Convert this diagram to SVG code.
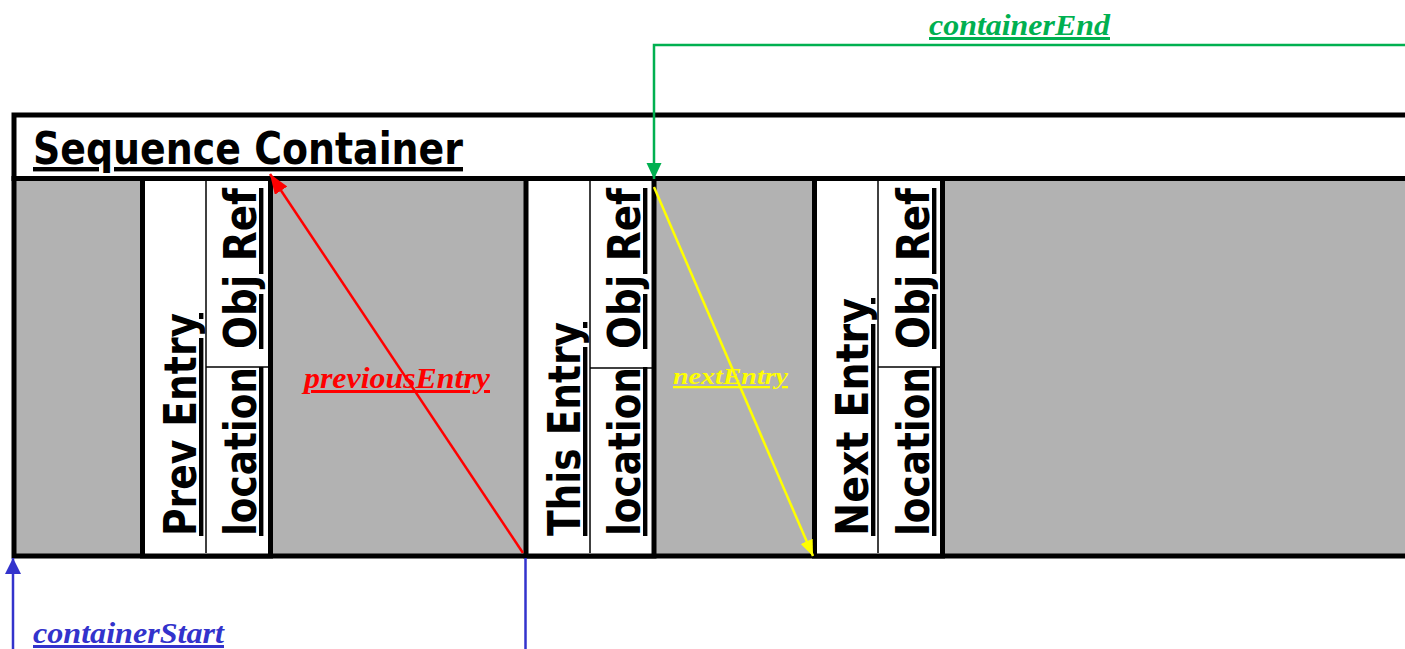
<svg xmlns="http://www.w3.org/2000/svg" width="1405" height="649" viewBox="0 0 1405 649">
<style>
.bd{stroke:#000;stroke-width:5;}
.thin{stroke:#000;stroke-width:1.5;}
.big{font-family:"DejaVu Sans Condensed","Liberation Sans",Arial,sans-serif;font-weight:bold;font-size:44px;fill:#000;text-decoration:underline;text-decoration-thickness:4px;text-underline-offset:3px;}
.lbl{font-family:"Liberation Serif","Times New Roman",serif;font-weight:bold;font-style:italic;text-decoration:underline;text-decoration-thickness:3px;}
.conn{fill:none;stroke-width:2.5;}
</style>
<defs>
<marker id="ar" markerUnits="userSpaceOnUse" markerWidth="22" markerHeight="16" refX="20" refY="7.5" orient="auto"><path d="M0,0 L20,7.5 L0,15 z" fill="#ff0000"/></marker>
<marker id="ay" markerUnits="userSpaceOnUse" markerWidth="18" markerHeight="14" refX="16" refY="6.5" orient="auto"><path d="M0,0 L16,6.5 L0,13 z" fill="#ffff00"/></marker>
<marker id="ag" markerUnits="userSpaceOnUse" markerWidth="18" markerHeight="16" refX="16" refY="7.5" orient="auto"><path d="M0,0 L16,7.5 L0,15 z" fill="#00b050"/></marker>
<marker id="ab" markerUnits="userSpaceOnUse" markerWidth="18" markerHeight="18" refX="16" refY="8" orient="auto"><path d="M0,0 L16,8 L0,16 z" fill="#3333cc"/></marker>
</defs>

<g id="container">
<rect x="14" y="115" width="1400" height="63.5" fill="#fff" class="bd"/>
<rect x="14" y="178.5" width="1400" height="377.5" fill="#b2b2b2" class="bd"/>
<text class="big" x="33" y="164" textLength="430" lengthAdjust="spacingAndGlyphs">Sequence Container</text>
</g>

<g id="prev-entry">
<rect x="142.5" y="178.5" width="128" height="377.5" fill="#fff" class="bd"/>
<line x1="206" y1="181" x2="206" y2="553" class="thin"/>
<line x1="206" y1="367" x2="268" y2="367" class="thin"/>
<text class="big" transform="translate(196,536) rotate(-90)" textLength="223" lengthAdjust="spacingAndGlyphs">Prev Entry</text>
<text class="big" transform="translate(256,536) rotate(-90)" textLength="169" lengthAdjust="spacingAndGlyphs">location</text>
<text class="big" transform="translate(256,349) rotate(-90)" textLength="161" lengthAdjust="spacingAndGlyphs">Obj Ref</text>
</g>

<g id="this-entry">
<rect x="526" y="178.5" width="128" height="377.5" fill="#fff" class="bd"/>
<line x1="590" y1="181" x2="590" y2="553" class="thin"/>
<line x1="590" y1="368" x2="652" y2="368" class="thin"/>
<text class="big" transform="translate(580,536) rotate(-90)" textLength="214" lengthAdjust="spacingAndGlyphs">This Entry</text>
<text class="big" transform="translate(640,536) rotate(-90)" textLength="169" lengthAdjust="spacingAndGlyphs">location</text>
<text class="big" transform="translate(640,349) rotate(-90)" textLength="161" lengthAdjust="spacingAndGlyphs">Obj Ref</text>
</g>

<g id="next-entry">
<rect x="814.5" y="178.5" width="128" height="377.5" fill="#fff" class="bd"/>
<line x1="878" y1="181" x2="878" y2="553" class="thin"/>
<line x1="878" y1="367" x2="940" y2="367" class="thin"/>
<text class="big" transform="translate(868,536) rotate(-90)" textLength="238" lengthAdjust="spacingAndGlyphs">Next Entry</text>
<text class="big" transform="translate(929,536) rotate(-90)" textLength="169" lengthAdjust="spacingAndGlyphs">location</text>
<text class="big" transform="translate(929,349) rotate(-90)" textLength="161" lengthAdjust="spacingAndGlyphs">Obj Ref</text>
</g>

<g id="connectors">
<line x1="523" y1="553" x2="270" y2="174" class="conn" stroke="#ff0000" marker-end="url(#ar)"/>
<text class="lbl" x="304" y="388" font-size="30" fill="#ff0000" textLength="186" lengthAdjust="spacingAndGlyphs">previousEntry</text>
<line x1="654" y1="187" x2="813" y2="556" class="conn" stroke="#ffff00" marker-end="url(#ay)"/>
<text class="lbl" x="673" y="384" font-size="23" fill="#ffff00" textLength="115" lengthAdjust="spacingAndGlyphs">nextEntry</text>
<path d="M1405,45 H654 V179" class="conn" stroke="#00b050" marker-end="url(#ag)"/>
<text class="lbl" x="929" y="35" font-size="30" fill="#00b050" textLength="181" lengthAdjust="spacingAndGlyphs">containerEnd</text>
<line x1="13" y1="649" x2="13" y2="558" class="conn" stroke="#3333cc" marker-end="url(#ab)"/>
<text class="lbl" x="33" y="643" font-size="30" fill="#3333cc" textLength="191" lengthAdjust="spacingAndGlyphs">containerStart</text>
<line x1="525.5" y1="649" x2="525.5" y2="558" class="conn" stroke="#3333cc"/>
</g>
</svg>
